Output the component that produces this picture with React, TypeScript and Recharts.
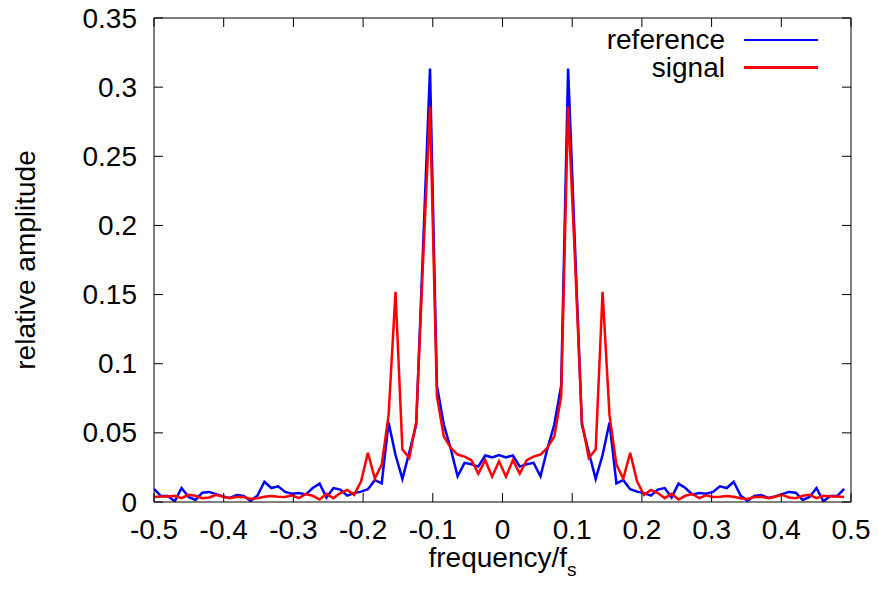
import React from "react"
import { LineChart, Line, XAxis, YAxis, Legend } from "recharts"

// frequency grid (normalised to f_s), 101 bins
const freq = [
  -0.5, -0.4901, -0.4802, -0.4703, -0.4604, -0.4505, -0.4406, -0.4307, -0.4208, -0.4109,
  -0.401, -0.3911, -0.3812, -0.3713, -0.3614, -0.3515, -0.3416, -0.3317, -0.3218, -0.3119,
  -0.302, -0.2921, -0.2822, -0.2723, -0.2624, -0.2525, -0.2426, -0.2327, -0.2228, -0.2129,
  -0.203, -0.1931, -0.1832, -0.1733, -0.1634, -0.1535, -0.1436, -0.1337, -0.1238, -0.1139,
  -0.104, -0.0941, -0.0842, -0.0743, -0.0644, -0.0545, -0.0446, -0.0347, -0.0248, -0.0149,
  -0.005, 0.005, 0.0149, 0.0248, 0.0347, 0.0446, 0.0545, 0.0644, 0.0743, 0.0842,
  0.0941, 0.104, 0.1139, 0.1238, 0.1337, 0.1436, 0.1535, 0.1634, 0.1733, 0.1832,
  0.1931, 0.203, 0.2129, 0.2228, 0.2327, 0.2426, 0.2525, 0.2624, 0.2723, 0.2822,
  0.2921, 0.302, 0.3119, 0.3218, 0.3317, 0.3416, 0.3515, 0.3614, 0.3713, 0.3812,
  0.3911, 0.401, 0.4109, 0.4208, 0.4307, 0.4406, 0.4505, 0.4604, 0.4703, 0.4802, 0.4901,
]

const reference = [
  0.0095, 0.0043, 0.0043, 0.0005, 0.0101, 0.0036, 0.0015, 0.0067, 0.0073, 0.0057,
  0.004, 0.0029, 0.005, 0.0043, 0.0008, 0.0047, 0.0146, 0.0101, 0.0113, 0.0073,
  0.006, 0.0065, 0.0055, 0.0101, 0.0133, 0.0032, 0.0101, 0.009, 0.0046, 0.0064,
  0.0075, 0.0093, 0.0158, 0.0135, 0.0575, 0.034, 0.0167, 0.036, 0.056, 0.185,
  0.3135, 0.084, 0.056, 0.0385, 0.0186, 0.0283, 0.0273, 0.0256, 0.0336, 0.0323,
  0.034, 0.0323, 0.0336, 0.0256, 0.0273, 0.0283, 0.0186, 0.0385, 0.056, 0.084,
  0.3135, 0.185, 0.056, 0.036, 0.0167, 0.034, 0.0575, 0.0135, 0.0158, 0.0093,
  0.0075, 0.0064, 0.0046, 0.009, 0.0101, 0.0032, 0.0133, 0.0101, 0.0055, 0.0065,
  0.006, 0.0073, 0.0113, 0.0101, 0.0146, 0.0047, 0.0008, 0.0043, 0.005, 0.0029,
  0.004, 0.0057, 0.0073, 0.0067, 0.0015, 0.0036, 0.0101, 0.0005, 0.0043, 0.0043, 0.0095,
]

const signal = [
  0.0036, 0.004, 0.004, 0.0045, 0.0028, 0.0052, 0.0045, 0.0028, 0.0033, 0.0052,
  0.0038, 0.0028, 0.0038, 0.0036, 0.0022, 0.0027, 0.0038, 0.0043, 0.0038, 0.0036,
  0.0049, 0.0028, 0.0058, 0.0045, 0.0018, 0.0059, 0.0028, 0.0065, 0.0087, 0.0052,
  0.0148, 0.0355, 0.017, 0.027, 0.063, 0.152, 0.0379, 0.0319, 0.0578, 0.175,
  0.286, 0.0765, 0.0474, 0.0392, 0.0343, 0.0328, 0.0302, 0.0205, 0.0302, 0.0183,
  0.0295, 0.0183, 0.0302, 0.0205, 0.0302, 0.0328, 0.0343, 0.0392, 0.0474, 0.0765,
  0.286, 0.175, 0.0578, 0.0319, 0.0379, 0.152, 0.063, 0.027, 0.017, 0.0355,
  0.0148, 0.0052, 0.0087, 0.0065, 0.0028, 0.0059, 0.0018, 0.0045, 0.0058, 0.0028,
  0.0049, 0.0036, 0.0038, 0.0043, 0.0038, 0.0027, 0.0022, 0.0036, 0.0038, 0.0028,
  0.0038, 0.0052, 0.0033, 0.0028, 0.0045, 0.0052, 0.0028, 0.0045, 0.004, 0.004, 0.0036,
]

const xTicks = [-0.5, -0.4, -0.3, -0.2, -0.1, 0, 0.1, 0.2, 0.3, 0.4, 0.5]
const yTicks = [0, 0.05, 0.1, 0.15, 0.2, 0.25, 0.3, 0.35]

const data = freq.map((f, i) => ({ f, reference: reference[i], signal: signal[i] }))

const FONT = "'Liberation Sans', Arial, Helvetica, sans-serif"
const FS = 28
const TICK = 9
const Y_GAP = 17

// gnuplot style: ticks point inwards, labels outside
const LeftTick = ({ x, y, payload }: any) => (
  <g>
    <line x1={x + Y_GAP} x2={x + Y_GAP + TICK} y1={y} y2={y} stroke="#000" />
    <text x={x} y={y} textAnchor="end" dominantBaseline="central" fontSize={FS} fontFamily={FONT} fill="#000">
      {String(payload.value)}
    </text>
  </g>
)

const BottomTick = ({ x, y, payload }: any) => (
  <g>
    <line x1={x} x2={x} y1={y} y2={y - TICK} stroke="#000" />
    <text x={x} y={y + 36.5} textAnchor="middle" fontSize={FS} fontFamily={FONT} fill="#000">
      {String(payload.value)}
    </text>
  </g>
)

const TopTick = ({ x, y }: any) => <line x1={x} x2={x} y1={y} y2={y + TICK} stroke="#000" />
const RightTick = ({ x, y }: any) => <line x1={x} x2={x - TICK} y1={y} y2={y} stroke="#000" />

const XTitle = ({ viewBox }: any) => (
  <text x={viewBox.x + viewBox.width / 2} y={viewBox.y + 65} textAnchor="middle" fontSize={FS} fontFamily={FONT} fill="#000">
    frequency/f
    <tspan fontSize={19} dy={9}>s</tspan>
  </text>
)

const YTitle = ({ viewBox }: any) => {
  const cx = 25
  const cy = viewBox.y + viewBox.height / 2
  return (
    <text x={cx} y={cy} transform={`rotate(-90, ${cx}, ${cy})`} textAnchor="middle" dominantBaseline="central" fontSize={FS} fontFamily={FONT} fill="#000">
      relative amplitude
    </text>
  )
}

const KeyBox = ({ payload }: any) => (
  <div style={{ fontFamily: FONT, fontSize: FS, color: "#000" }}>
    {(payload || []).map((entry: any) => (
      <div key={entry.value} style={{ display: "flex", justifyContent: "flex-end", alignItems: "center", height: 27.5 }}>
        <span style={{ lineHeight: "27.5px" }}>{entry.value}</span>
        <span style={{ display: "inline-block", width: 74, height: 2.5, marginLeft: 19, background: entry.color }} />
      </div>
    ))}
  </div>
)

export default function App() {
  return (
    <div style={{ position: "absolute", left: 0, top: 0, width: 878, height: 589, background: "#fff", fontFamily: FONT }}>
      <LineChart width={878} height={589} data={data} margin={{ top: 0, right: 0, bottom: 0, left: 0 }}>
        <XAxis
          dataKey="f"
          type="number"
          domain={[-0.5, 0.5]}
          ticks={xTicks}
          height={87}
          tickSize={0}
          tickLine={false}
          tickMargin={0}
          tick={<BottomTick />}
          axisLine={{ stroke: "#000" }}
          label={{ content: <XTitle /> }}
          allowDataOverflow
        />
        <XAxis
          xAxisId="top"
          orientation="top"
          dataKey="f"
          type="number"
          domain={[-0.5, 0.5]}
          ticks={xTicks}
          height={18}
          tickSize={0}
          tickLine={false}
          tickMargin={0}
          tick={<TopTick />}
          axisLine={{ stroke: "#000" }}
          allowDataOverflow
        />
        <YAxis
          type="number"
          domain={[0, 0.35]}
          ticks={yTicks}
          width={154}
          tickSize={0}
          tickLine={false}
          tickMargin={Y_GAP}
          tick={<LeftTick />}
          axisLine={{ stroke: "#000" }}
          label={{ content: <YTitle /> }}
          allowDataOverflow
        />
        <YAxis
          yAxisId="right"
          orientation="right"
          type="number"
          domain={[0, 0.35]}
          ticks={yTicks}
          width={27}
          tickSize={0}
          tickLine={false}
          tickMargin={0}
          tick={<RightTick />}
          axisLine={{ stroke: "#000" }}
          allowDataOverflow
        />
        <Legend
          content={<KeyBox />}
          verticalAlign="middle"
          align="center"
          wrapperStyle={{ position: "absolute", left: 0, top: 26, width: 818 }}
        />
        <Line type="linear" dataKey="reference" name="reference" stroke="#0000ff" strokeWidth={2.5} dot={false} isAnimationActive={false} />
        <Line type="linear" dataKey="signal" name="signal" stroke="#ff0000" strokeWidth={2.5} dot={false} isAnimationActive={false} />
      </LineChart>
    </div>
  )
}
